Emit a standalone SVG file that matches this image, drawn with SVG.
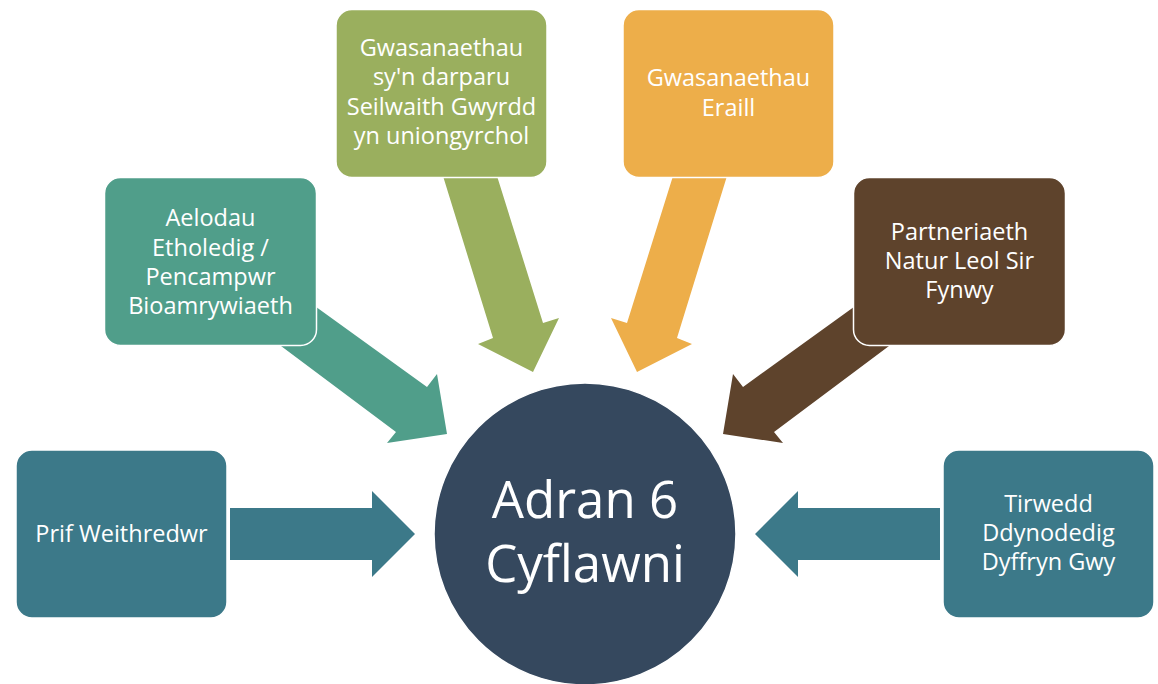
<svg xmlns="http://www.w3.org/2000/svg" width="1158" height="684" viewBox="0 0 1158 684">
<style>
.box{stroke:#ffffff;stroke-width:1.5}
.t{font-family:"Open Sans","Liberation Sans",sans-serif;font-size:23.5px;fill:#ffffff;text-anchor:middle}
.big{font-family:"Open Sans","Liberation Sans",sans-serif;font-size:51px;fill:#ffffff;text-anchor:middle}
.a1{fill:#3C7989}
.a2{fill:#509E8A}
.a3{fill:#9AAF5E}
.a4{fill:#EDAE4A}
.a5{fill:#5E432C}
</style>
<rect width="1158" height="684" fill="#ffffff"/>
<g id="connectors">
<polygon class="a1" points="230,508 372,508 372,491 415,534 372,577 372,560 230,560"/>
<polygon class="a1" points="940,508 798,508 798,491 755,534 798,577 798,560 940,560"/>
<polygon class="a2" points="312,304 427,387 437,374 447,434 387,443 396,432 281,346"/>
<polygon class="a5" points="858,304 743,387 733,374 723,434 783,443 774,432 889,346"/>
<polygon class="a3" points="443,176 497,176 543,323 559,318 533,372 478,344 493,338"/>
<polygon class="a4" points="727,176 673,176 627,323 611,318 637,372 692,344 677,338"/>
</g>
<g id="node-prif">
<rect class="box a1" x="16" y="450" width="211" height="168" rx="16"/>
<text class="t" x="121.5" y="542">Prif Weithredwr</text>
</g>
<g id="node-aelodau">
<rect class="box a2" x="104.5" y="177.5" width="212" height="168" rx="16"/>
<text class="t" x="210.5" y="226">Aelodau</text>
<text class="t" x="210.5" y="256">Etholedig /</text>
<text class="t" x="210.5" y="285">Pencampwr</text>
<text class="t" x="210.5" y="314">Bioamrywiaeth</text>
</g>
<g id="node-gwasanaethau-gwyrdd">
<rect class="box a3" x="336" y="9.5" width="211" height="168" rx="16"/>
<text class="t" x="441.5" y="56">Gwasanaethau</text>
<text class="t" x="441.5" y="85">sy'n darparu</text>
<text class="t" x="441.5" y="115">Seilwaith Gwyrdd</text>
<text class="t" x="441.5" y="144">yn uniongyrchol</text>
</g>
<g id="node-gwasanaethau-eraill">
<rect class="box a4" x="623" y="9.5" width="211" height="168" rx="16"/>
<text class="t" x="728.5" y="86">Gwasanaethau</text>
<text class="t" x="728.5" y="116">Eraill</text>
</g>
<g id="node-partneriaeth">
<rect class="box a5" x="853.5" y="177.5" width="212" height="168" rx="16"/>
<text class="t" x="959.5" y="240">Partneriaeth</text>
<text class="t" x="959.5" y="269">Natur Leol Sir</text>
<text class="t" x="959.5" y="298">Fynwy</text>
</g>
<g id="node-tirwedd">
<rect class="box a1" x="943" y="450" width="211" height="168" rx="16"/>
<text class="t" x="1048.5" y="512">Tirwedd</text>
<text class="t" x="1048.5" y="541">Ddynodedig</text>
<text class="t" x="1048.5" y="570">Dyffryn Gwy</text>
</g>
<g id="node-adran">
<circle cx="585" cy="534" r="151" fill="#35485E" stroke="#ffffff" stroke-width="1.5"/>
<text class="big" x="585" y="518">Adran 6</text>
<text class="big" x="585" y="582">Cyflawni</text>
</g>
</svg>
